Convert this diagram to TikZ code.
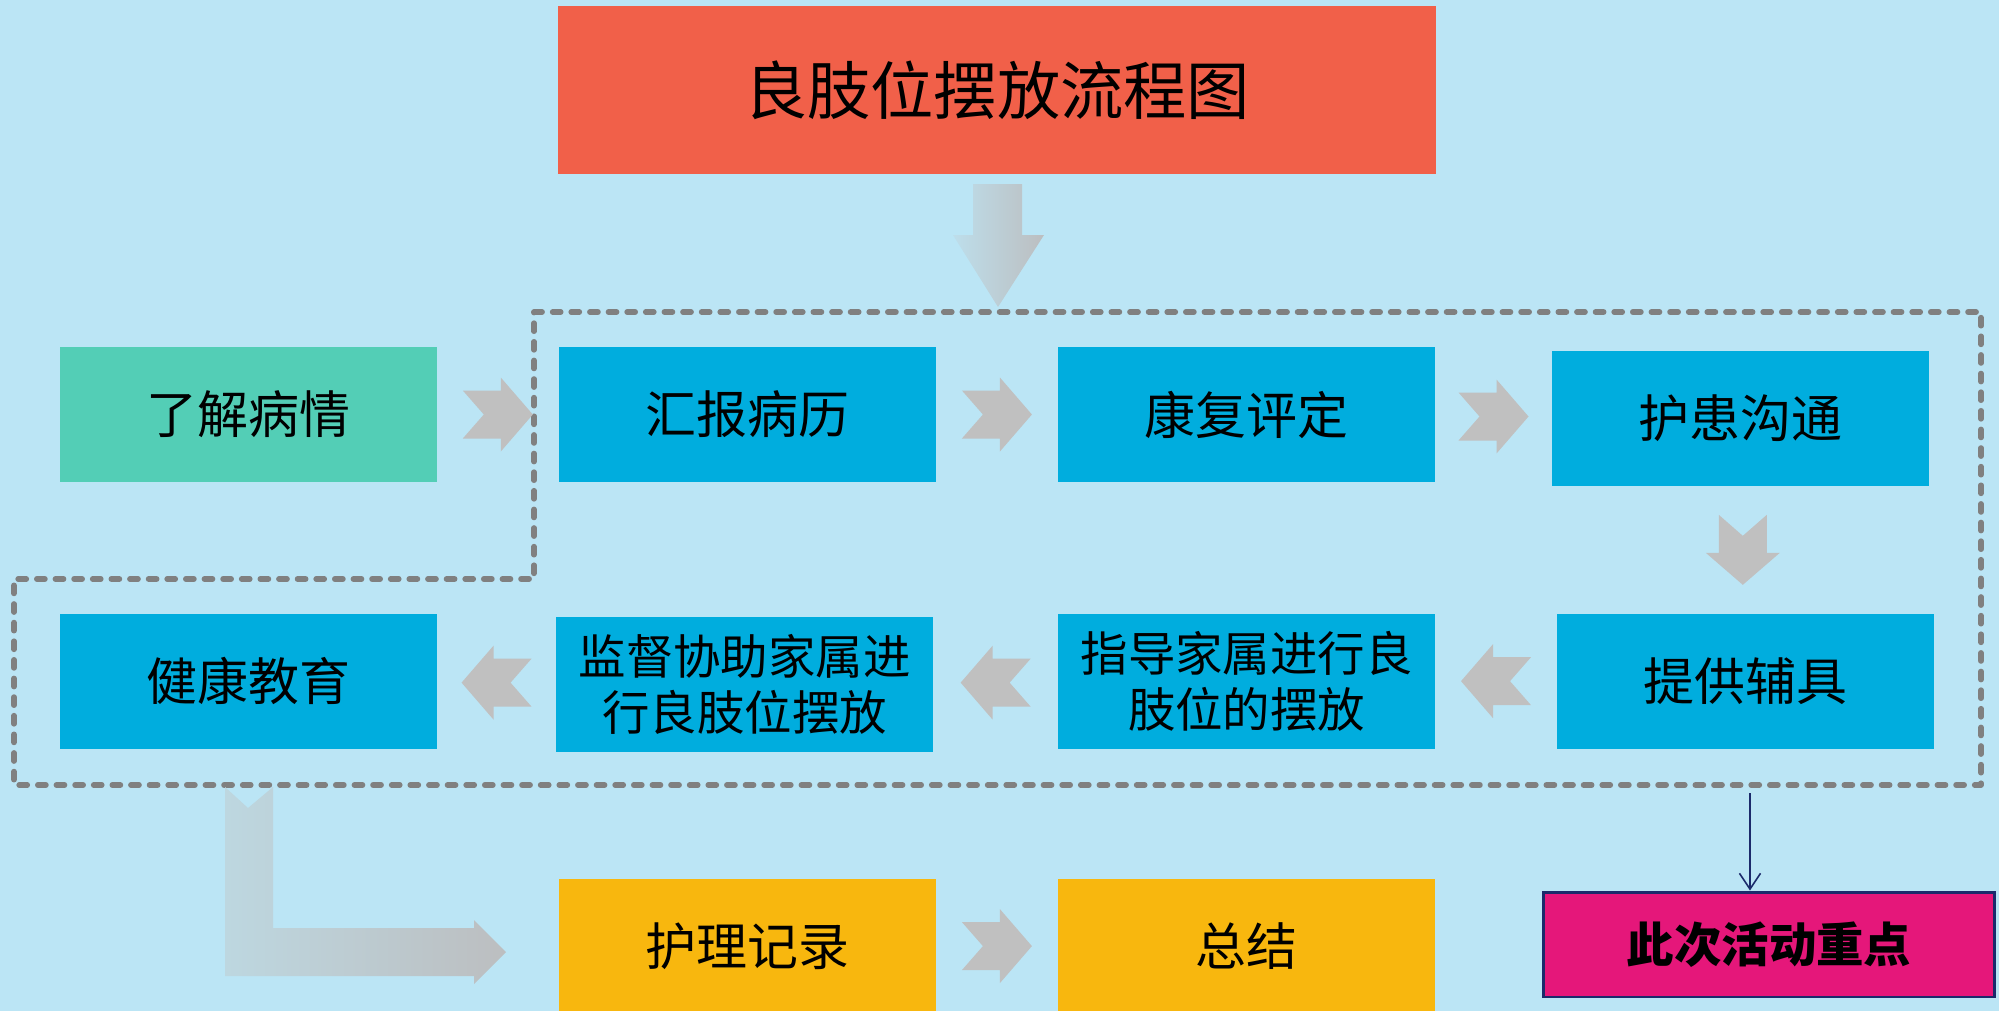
\documentclass[tikz,border=0pt]{standalone}
\usepackage{fontspec}
\setmainfont{Noto Sans CJK SC}
\usetikzlibrary{arrows.meta, positioning, calc}
\definecolor{bgblue}{RGB}{187,229,245}
\definecolor{titlered}{RGB}{241,96,73}
\definecolor{stepgreen}{RGB}{83,206,182}
\definecolor{stepblue}{RGB}{0,173,222}
\definecolor{stepyellow}{RGB}{248,183,14}
\definecolor{focuspink}{RGB}{229,23,122}
\definecolor{navyline}{RGB}{27,42,107}
\definecolor{chevgray}{RGB}{192,192,192}
\definecolor{dashgray}{RGB}{128,128,128}
\definecolor{fadel}{RGB}{189,222,235}
\definecolor{fader}{RGB}{188,190,192}
\definecolor{bentl}{RGB}{189,215,224}

\begin{document}
\begin{tikzpicture}[x=0.02cm, y=-0.02cm,
                    box/.style={rectangle, minimum width=7.54cm, minimum height=2.7cm, inner sep=0pt, align=center, text=black, font=\fontsize{29}{31}\selectfont},
                    twoline/.style={box, font=\fontsize{27}{32}\selectfont},
                    chevr/.pic={\fill[chevgray] (-35,-24) -- (3,-24) -- (3,-37) -- (35,0) -- (3,37) -- (3,24) -- (-35,24) -- (-14,0) -- cycle;}]
                    \useasboundingbox (0,0) rectangle (1999,1011);
                    \clip (0,0) rectangle (1999,1011);
                    \fill[bgblue] (0,0) rectangle (1999,1011);
                    \node[box, fill=titlered, minimum width=17.56cm, minimum height=3.36cm, font=\fontsize{36}{40}\selectfont] (title) at (997,90) {良肢位摆放流程图};
                    \node[box, fill=stepgreen] (know) at (248.5,414.5) {了解病情};
                    \node[box, fill=stepblue, right=2.42cm of know] (report) {汇报病历};
                    \node[box, fill=stepblue, right=2.44cm of report] (assess) {康复评定};
                    \node[box, fill=stepblue, right=2.32cm of assess, yshift=-0.08cm] (talk) {护患沟通};
                    \node[box, fill=stepblue, below=2.54cm of talk, xshift=0.1cm] (aids) {提供辅具};
                    \node[twoline, fill=stepblue, below=2.62cm of assess] (guide) {指导家属进行良\\肢位的摆放};
                    \node[twoline, fill=stepblue, below=2.68cm of report, xshift=-0.05cm] (watch) {监督协助家属进\\行良肢位摆放};
                    \node[box, fill=stepblue, below=2.62cm of know] (edu) {健康教育};
                    \node[box, fill=stepyellow, below=7.92cm of report] (record) {护理记录};
                    \node[box, fill=stepyellow, below=7.92cm of assess] (sum) {总结};
                    \node[box, fill=focuspink, draw=navyline, line width=1.7pt, minimum width=9.04cm, minimum height=2.1cm, font=\fontsize{27}{30}\selectfont\bfseries] (focus) at (1769,944.5) {此次活动重点};
                    \draw[dashgray, line width=3.2pt, line cap=round, line join=round, dash pattern=on 4.6pt off 6pt] (534,312) -- (1981,312) -- (1981,785) -- (14,785) -- (14,579) -- (534,579) -- cycle;
                    \shade[left color=fadel, right color=fader] (973,184) -- (1022,184) -- (1022,235) -- (1044,235) -- (998,307) -- (953,235) -- (973,235) -- cycle;
                    \shade[left color=bentl, right color=fader] (225,787) -- (248,808) -- (273,787) -- (273,928) -- (474,928) -- (474,920) -- (506,952) -- (474,984) -- (474,976) -- (225,976) -- cycle;
                    \pic at ($(know.east)!0.5!(report.west)$) {chevr};
                    \pic at ($(report.east)!0.5!(assess.west)$) {chevr};
                    \pic at ($(assess.east)!0.5!(talk.west)$) {chevr};
                    \pic[rotate=-90] at ($(talk.south)!0.5!(aids.north)$) {chevr};
                    \pic[rotate=180] at ($(aids.west)!0.5!(guide.east)$) {chevr};
                    \pic[rotate=180] at ($(guide.west)!0.5!(watch.east)$) {chevr};
                    \pic[rotate=180] at ($(watch.west)!0.5!(edu.east)$) {chevr};
                    \pic at ($(record.east)!0.5!(sum.west)$) {chevr};
                    \coordinate (mark) at (1750,793);
                    \draw[navyline, line width=0.9pt, -{Straight Barb[length=9pt, width=12pt]}] (mark) -- (mark |- focus.north);
                \end{tikzpicture}
\end{document}
